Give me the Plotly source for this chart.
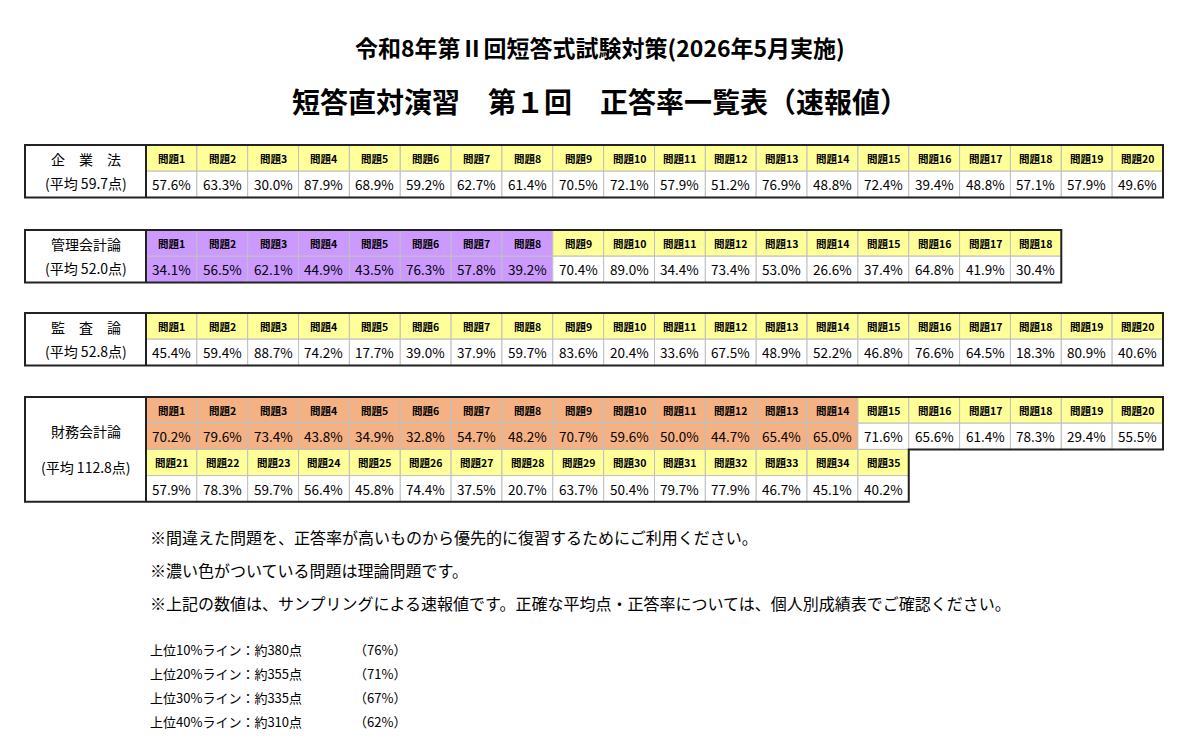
import plotly.graph_objects as go

title1 = "令和8年第Ⅱ回短答式試験対策(2026年5月実施)"
title2 = "短答直対演習　第１回　正答率一覧表（速報値）"

subjects = ["企　業　法", "管理会計論", "監　査　論", "財務会計論"]
averages = ["(平均 59.7点)", "(平均 52.0点)", "(平均 52.8点)", "(平均 112.8点)"]
kigyo = [57.6, 63.3, 30.0, 87.9, 68.9, 59.2, 62.7, 61.4, 70.5, 72.1, 57.9, 51.2, 76.9, 48.8, 72.4, 39.4, 48.8, 57.1, 57.9, 49.6]
kanri = [34.1, 56.5, 62.1, 44.9, 43.5, 76.3, 57.8, 39.2, 70.4, 89.0, 34.4, 73.4, 53.0, 26.6, 37.4, 64.8, 41.9, 30.4]
kansa = [45.4, 59.4, 88.7, 74.2, 17.7, 39.0, 37.9, 59.7, 83.6, 20.4, 33.6, 67.5, 48.9, 52.2, 46.8, 76.6, 64.5, 18.3, 80.9, 40.6]
zaimu = [70.2, 79.6, 73.4, 43.8, 34.9, 32.8, 54.7, 48.2, 70.7, 59.6, 50.0, 44.7, 65.4, 65.0, 71.6, 65.6, 61.4, 78.3, 29.4, 55.5,
         57.9, 78.3, 59.7, 56.4, 45.8, 74.4, 37.5, 20.7, 63.7, 50.4, 79.7, 77.9, 46.7, 45.1, 40.2]
values = [kigyo, kanri, kansa, zaimu]
theory_counts = [0, 8, 0, 14]
theory_colors = [None, "#CC99FF", None, "#F4B183"]
notes = ["※間違えた問題を、正答率が高いものから優先的に復習するためにご利用ください。",
         "※濃い色がついている問題は理論問題です。",
         "※上記の数値は、サンプリングによる速報値です。正確な平均点・正答率については、個人別成績表でご確認ください。"]
lines = ["上位10%ライン：約380点", "上位20%ライン：約355点", "上位30%ライン：約335点", "上位40%ライン：約310点"]
line_pct = ["（76%）", "（71%）", "（67%）", "（62%）"]

FONT = "Noto Sans CJK JP"
X0, XL, CW, RH = 25, 146, 50.85, 26.2
tops = [145, 230, 313, 397]
YELLOW = "#FFFF99"

shapes, ann = [], []

def rect(x0, y0, x1, y1, fill, lc="#BFBFBF", lw=1):
    shapes.append(dict(type="rect", x0=x0, y0=y0, x1=x1, y1=y1, fillcolor=fill,
                       line=dict(color=lc, width=lw), layer="below"))

def text(x, y, s, size, bold=False, anchor="center", color="black"):
    ann.append(dict(x=x, y=y, text=f"<b>{s}</b>" if bold else s, showarrow=False,
                    xanchor=anchor, yanchor="middle", font=dict(family=FONT, size=size, color=color)))

for si, vals in enumerate(values):
    top = tops[si]
    nrows = (len(vals) + 19) // 20
    for i, v in enumerate(vals):
        r, c = divmod(i, 20)
        x = XL + c * CW
        y = top + r * 2 * RH
        th = i < theory_counts[si]
        hfill = theory_colors[si] if th else YELLOW
        vfill = theory_colors[si] if th else "white"
        rect(x, y, x + CW, y + RH, hfill)
        rect(x, y + RH, x + CW, y + 2 * RH, vfill)
        text(x + CW / 2, y + RH / 2, f"問題{i+1}", 10.5, bold=True)
        text(x + CW / 2, y + RH * 1.5, f"{v:.1f}%", 13.5)
    ncol1 = min(len(vals), 20)
    xr1 = XL + ncol1 * CW
    bottom = top + nrows * 2 * RH
    if nrows == 1:
        path = f"M{X0},{top} L{xr1},{top} L{xr1},{bottom} L{X0},{bottom} Z"
    else:
        last = len(vals) - 20
        xr2 = XL + last * CW
        mid = top + 2 * RH
        path = f"M{X0},{top} L{xr1},{top} L{xr1},{mid} L{xr2},{mid} L{xr2},{bottom} L{X0},{bottom} Z"
    shapes.append(dict(type="path", path=path, line=dict(color="#222", width=2)))
    shapes.append(dict(type="line", x0=XL, x1=XL, y0=top, y1=bottom, line=dict(color="#222", width=2)))
    cy = (top + bottom) / 2
    gap = 12 if nrows == 1 else 18
    text((X0 + XL) / 2, cy - gap, subjects[si], 14)
    text((X0 + XL) / 2, cy + gap, averages[si], 14)

text(600, 47, title1, 23, bold=True)
text(600, 101, title2, 28, bold=True)
for k, n in enumerate(notes):
    text(148, 537 + 33 * k, n, 16, anchor="left")
for k, (l, p) in enumerate(zip(lines, line_pct)):
    text(148, 649 + 24.3 * k, l, 13, anchor="left")
    text(352, 649 + 24.3 * k, p, 13, anchor="left")

fig = go.Figure()
fig.update_layout(width=1200, height=755, margin=dict(l=0, r=0, t=0, b=0),
                  plot_bgcolor="white", paper_bgcolor="white", shapes=shapes, annotations=ann,
                  xaxis=dict(range=[8, 1208], visible=False, fixedrange=True),
                  yaxis=dict(range=[763, 8], visible=False, fixedrange=True), showlegend=False)
fig.write_html("out.html")
